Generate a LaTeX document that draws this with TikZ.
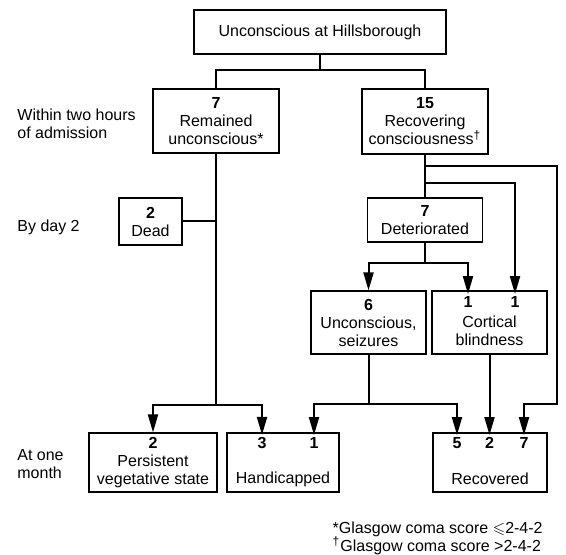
\documentclass[tikz,border=0pt]{standalone}
\usepackage{amssymb}
\usepackage{fontspec}
\setmainfont{Liberation Sans}
\usetikzlibrary{arrows.meta}

\begin{document}
\begin{tikzpicture}[x=0.5pt, y=-0.5pt, font=\fontsize{8}{9}\selectfont]
\tikzstyle{boxr}=[rectangle, draw, line width=0.6pt, inner sep=0pt, align=center]
\tikzstyle{numr}=[inner sep=1pt, font=\fontsize{8}{9}\selectfont\bfseries]
\tikzstyle{txt}=[inner sep=0pt, align=center]
\tikzstyle{drawstyle}=[line width=1pt]
\tikzstyle{arrowstyle}=[line width=1pt, -{Triangle[length=9pt, width=5pt]}]

\useasboundingbox (0,0) rectangle (566,555);

% row labels
\node[txt, align=left, anchor=west] (lab1) at (17,124) {Within two hours\\of admission};
\node[txt, anchor=west] (lab2) at (17,227) {By day 2};
\node[txt, align=left, anchor=west] (lab3) at (17,464) {At one\\month};

\node[boxr, minimum width=126pt, minimum height=22pt] (top) at (320,32) {Unconscious at Hillsborough};
\node[boxr, minimum width=63pt, minimum height=32pt] (rem) at (216,121) {\textbf{7}\\Remained\\unconscious*};
\node[boxr, minimum width=63pt, minimum height=32.5pt] (rec) at (425,121.5) {\textbf{15}\\Recovering\\consciousness\textsuperscript{†}};
\node[boxr, minimum width=31.5pt, minimum height=23.5pt] (dead) at (150.5,221.5) {\textbf{2}\\Dead};
\node[boxr, minimum width=57.5pt, minimum height=22pt] (det) at (425,220) {\textbf{7}\\Deteriorated};
\node[boxr, minimum width=57.5pt, minimum height=31.5pt] (unc) at (368.5,322.5) {\textbf{6}\\Unconscious,\\seizures};
\node[boxr, minimum width=57.5pt, minimum height=31.5pt] (cort) at (489.5,322.5) {};
\node[txt] (cort-t) at (489.5,331) {Cortical\\blindness};
\node[numr] (c1a) at (468,302) {1};
\node[numr] (c1b) at (515,302) {1};

\node[boxr, minimum width=64pt, minimum height=29.5pt] (pvs) at (153,462.5) {\textbf{2}\\Persistent\\vegetative state};
\node[boxr, minimum width=56pt, minimum height=29.5pt] (hand) at (283,462.5) {};
\node[txt] (hand-t) at (283,479) {Handicapped};
\node[numr] (h3) at (262,443) {3};
\node[numr] (h1) at (314,443) {1};
\node[boxr, minimum width=57pt, minimum height=29.5pt] (recov) at (490,462.5) {};
\node[txt] (recov-t) at (490,479) {Recovered};
\node[numr] (r5) at (457,443) {5};
\node[numr] (r2) at (489.5,443) {2};
\node[numr] (r7) at (524,443) {7};

% footnotes
\node[txt, align=left, anchor=east] (foot) at (543,538.5) {*Glasgow coma score $\leqslant$2-4-2\\\textsuperscript{†}Glasgow coma score >2-4-2};

\coordinate (j0) at (320,70);
\coordinate (j1) at (216,405);
\coordinate (b1) at (425,166);
\coordinate (b2) at (425,183);
\coordinate (c1) at (557,404);
\coordinate (j2) at (425,263);
\coordinate (j3) at (368.5,404);

\draw[drawstyle] (top) -- (j0);
\draw[drawstyle] (rem.north) |- (j0) -| (rec.north);
\draw[drawstyle] (rem) -- (j1);
\draw[drawstyle] (dead) -- (dead -| j1);
\draw[arrowstyle] (j1) -| (pvs);
\draw[arrowstyle] (j1) -| (h3);
\draw[drawstyle] (rec) -- (det);
\draw[arrowstyle] (b1) -| (c1) -| (r7);
\draw[arrowstyle] (b2) -| (c1b);
\draw[drawstyle] (det) -- (j2);
\draw[arrowstyle] (j2) -| (unc);
\draw[arrowstyle] (j2) -| (c1a);
\draw[drawstyle] (unc) -- (j3);
\draw[arrowstyle] (j3) -| (h1);
\draw[arrowstyle] (j3) -| (r5);
\draw[arrowstyle] (cort) -- (r2);
\end{tikzpicture}
\end{document}
